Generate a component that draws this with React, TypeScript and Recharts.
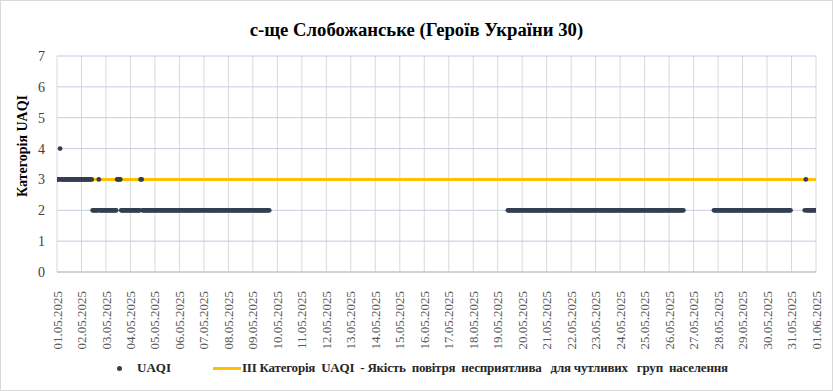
import {
  CartesianGrid,
  ComposedChart,
  Legend,
  Line,
  Scatter,
  XAxis,
  YAxis,
} from 'recharts'

const dayLabels = [
  '01.05.2025', '02.05.2025', '03.05.2025', '04.05.2025', '05.05.2025',
  '06.05.2025', '07.05.2025', '08.05.2025', '09.05.2025', '10.05.2025',
  '11.05.2025', '12.05.2025', '13.05.2025', '14.05.2025', '15.05.2025',
  '16.05.2025', '17.05.2025', '18.05.2025', '19.05.2025', '20.05.2025',
  '21.05.2025', '22.05.2025', '23.05.2025', '24.05.2025', '25.05.2025',
  '26.05.2025', '27.05.2025', '28.05.2025', '29.05.2025', '30.05.2025',
  '31.05.2025', '01.06.2025',
]

// hourly UAQI category, one string per day (24 hours), '-' = no data
const hourlyUaqi = [
  '333433333333333333333333', // 01.05
  '333333333332222223222222', // 02.05
  '222222222223333222222222', // 03.05
  '222222222233222222222222', // 04.05
  '222222222222222222222222', // 05.05
  '222222222222222222222222', // 06.05
  '222222222222222222222222', // 07.05
  '222222222222222222222222', // 08.05
  '22222222222222222-------', // 09.05
  '------------------------', // 10.05
  '------------------------', // 11.05
  '------------------------', // 12.05
  '------------------------', // 13.05
  '------------------------', // 14.05
  '------------------------', // 15.05
  '------------------------', // 16.05
  '------------------------', // 17.05
  '------------------------', // 18.05
  '----------22222222222222', // 19.05
  '222222222222222222222222', // 20.05
  '222222222222222222222222', // 21.05
  '222222222222222222222222', // 22.05
  '222222222222222222222222', // 23.05
  '222222222222222222222222', // 24.05
  '222222222222222222222222', // 25.05
  '222222222222222---------', // 26.05
  '--------------------2222', // 27.05
  '222222222222222222222222', // 28.05
  '222222222222222222222222', // 29.05
  '222222222222222222222222', // 30.05
  '-------------23222222222', // 31.05
]

const thresholdHours = [0, 744]
const thresholdValues = [3, 3]
const yTicks = [0, 1, 2, 3, 4, 5, 6, 7]

const seriesName = 'UAQI'
const thresholdName =
  'III Категорія  UAQI  - Якість  повітря  несприятлива   для чутливих   груп  населення'

const uaqiData = hourlyUaqi
  .flatMap((day, d) =>
    day.split('').map((c, h) => ({
      hour: d * 24 + h,
      uaqi: c === '-' ? null : Number(c),
    }))
  )
  .filter((p) => p.uaqi !== null)

const thresholdData = thresholdHours.map((hour, i) => ({
  hour,
  uaqi: thresholdValues[i],
}))

const FONT = "'Liberation Serif', 'DejaVu Serif', serif"
const dotColor = '#333f50'
const lineColor = '#ffc000'

const DateTick = ({ x, y, payload }: any) => (
  <g transform={`translate(${x},${y + 11})`}>
    <text
      transform="rotate(-90)"
      textAnchor="end"
      dy="0.35em"
      fontSize={13}
      fill="#595959"
      style={{ fontFamily: FONT }}
    >
      {dayLabels[Math.round(payload.value / 24)]}
    </text>
  </g>
)

const Dot = ({ cx, cy }: any) => <circle cx={cx} cy={cy} r={2.4} fill={dotColor} />

const LegendBox = () => (
  <div
    style={{
      position: 'relative',
      height: 30,
      fontFamily: FONT,
      fontWeight: 'bold',
      fontSize: 13,
      color: '#262626',
      whiteSpace: 'pre',
    }}
  >
    <span
      style={{
        position: 'absolute',
        left: 117,
        top: 13,
        width: 5,
        height: 5,
        borderRadius: '50%',
        background: dotColor,
      }}
    />
    <span style={{ position: 'absolute', left: 137, top: 7 }}>{seriesName}</span>
    <span
      style={{
        position: 'absolute',
        left: 213,
        top: 14,
        width: 28,
        height: 3,
        background: lineColor,
      }}
    />
    <span style={{ position: 'absolute', left: 242, top: 7, letterSpacing: -0.22 }}>
      {thresholdName}
    </span>
  </div>
)

export default function App() {
  return (
    <div
      style={{
        position: 'absolute',
        left: 0,
        top: 0,
        width: 833,
        height: 391,
        background: '#fff',
        outline: '1px solid #d9d9d9',
        outlineOffset: -1,
        fontFamily: FONT,
      }}
    >
      <div
        style={{
          position: 'absolute',
          top: 19,
          width: 833,
          textAlign: 'center',
          fontFamily: FONT,
          fontWeight: 'bold',
          fontSize: 18.7,
          color: '#000',
        }}
      >
        с-ще Слобожанське (Героїв України 30)
      </div>
      <ComposedChart
        width={833}
        height={391}
        margin={{ top: 56, right: 17, bottom: 8, left: 0 }}
        style={{ fontFamily: FONT }}
      >
        <CartesianGrid horizontal={false} stroke="#d9d9d9" />
        <CartesianGrid vertical={false} stroke="#c5cbe3" />
        <XAxis
          type="number"
          dataKey="hour"
          domain={[0, 744]}
          ticks={dayLabels.map((_, i) => i * 24)}
          interval={0}
          tick={<DateTick />}
          tickLine={false}
          stroke="#bfbfbf"
          height={81}
          allowDataOverflow
        />
        <YAxis
          type="number"
          dataKey="uaqi"
          domain={[0, 7]}
          ticks={yTicks}
          interval={0}
          axisLine={false}
          tickLine={false}
          tickMargin={6}
          width={57}
          tick={{ fontSize: 14, fontFamily: FONT, fill: '#404040' }}
          label={{
            content: () => (
              <text
                x={22}
                y={146}
                transform="rotate(-90 22 146)"
                textAnchor="middle"
                dominantBaseline="central"
                fontWeight="bold"
                fontSize={14}
                fill="#000"
                style={{ fontFamily: FONT }}
              >
                Категорія UAQI
              </text>
            ),
          }}
        />
        <Line
          data={thresholdData}
          dataKey="uaqi"
          name={thresholdName}
          stroke={lineColor}
          strokeWidth={3}
          dot={false}
          isAnimationActive={false}
        />
        <Scatter
          data={uaqiData}
          dataKey="uaqi"
          name={seriesName}
          fill={dotColor}
          shape={<Dot />}
          isAnimationActive={false}
        />
        <Legend verticalAlign="bottom" content={<LegendBox />} />
      </ComposedChart>
    </div>
  )
}
